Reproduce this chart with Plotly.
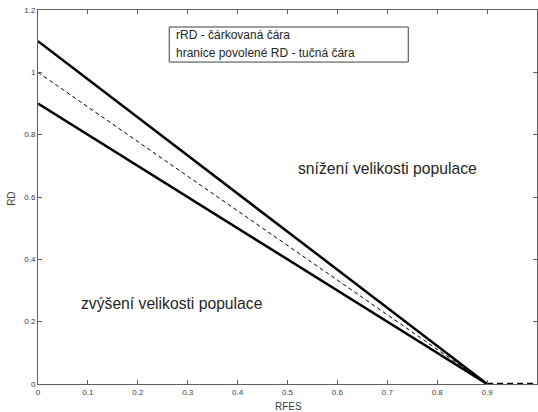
import plotly.graph_objects as go

# Data
rfes = [0, 0.9]
upper_bound = [1.1, 0]
lower_bound = [0.9, 0]
rrd = [1.0, 0]
tail_x = [0.9, 1.0]
tail_y = [0, 0]

x_ticks = [0, 0.1, 0.2, 0.3, 0.4, 0.5, 0.6, 0.7, 0.8, 0.9, 1]
x_tick_labels = ["0", "0.1", "0.2", "0.3", "0.4", "0.5", "0.6", "0.7", "0.8", "0.9", "1"]
y_ticks = [0, 0.2, 0.4, 0.6, 0.8, 1, 1.2]
y_tick_labels = ["0", "0.2", "0.4", "0.6", "0.8", "1", "1.2"]

legend_lines = ["rRD - čárkovaná čára", "hranice povolené RD - tučná čára"]
region_labels = ["snížení velikosti populace", "zvýšení velikosti populace"]

FONT = "Liberation Sans, Arial, sans-serif"
AX = "#606060"

fig = go.Figure()
fig.add_trace(go.Scatter(x=rfes, y=upper_bound, mode="lines",
                         line=dict(color="black", width=2.5), showlegend=False))
fig.add_trace(go.Scatter(x=rfes, y=lower_bound, mode="lines",
                         line=dict(color="black", width=2.5), showlegend=False))
fig.add_trace(go.Scatter(x=rfes, y=rrd, mode="lines",
                         line=dict(color="black", width=1, dash="4px,3px"), showlegend=False))
fig.add_trace(go.Scatter(x=tail_x, y=tail_y, mode="lines",
                         line=dict(color="black", width=2.5, dash="6px,4px"), showlegend=False))

# legend-like box
fig.add_shape(type="rect", xref="x", yref="y", x0=0.263, x1=0.742, y0=1.033, y1=1.1455,
              line=dict(color="#404040", width=1), fillcolor="white", layer="above")
fig.add_annotation(x=0.273, y=1.12, xref="x", yref="y", text=legend_lines[0], showarrow=False,
                   xanchor="left", yanchor="middle", font=dict(family=FONT, size=12, color="#262626"))
fig.add_annotation(x=0.273, y=1.061, xref="x", yref="y", text=legend_lines[1], showarrow=False,
                   xanchor="left", yanchor="middle", font=dict(family=FONT, size=12, color="#262626"))

fig.add_annotation(x=0.7, y=0.693, xref="x", yref="y", text=region_labels[0], showarrow=False,
                   xanchor="center", yanchor="middle", font=dict(family=FONT, size=15.7, color="#262626"))
fig.add_annotation(x=0.268, y=0.257, xref="x", yref="y", text=region_labels[1], showarrow=False,
                   xanchor="center", yanchor="middle", font=dict(family=FONT, size=15.7, color="#262626"))

# axis titles
fig.add_annotation(x=0.502, y=0, xref="paper", yref="paper", yshift=-22, text="RFES", showarrow=False,
                   xanchor="center", yanchor="middle",
                   font=dict(family=FONT, size=10, color="#404040"))
fig.add_annotation(x=0, y=0.495, xref="paper", yref="paper", xshift=-26, text="RD", showarrow=False,
                   xanchor="center", yanchor="middle", textangle=-90,
                   font=dict(family=FONT, size=10, color="#404040"))

axis_common = dict(showgrid=False, zeroline=False, showline=True, linecolor=AX, linewidth=1,
                   mirror="ticks", ticks="inside", ticklen=4, tickcolor=AX, automargin=False,
                   tickfont=dict(family=FONT, size=8, color="#404040"))

fig.update_xaxes(range=[0, 1], tickvals=x_ticks, ticktext=x_tick_labels, **axis_common)
fig.update_yaxes(range=[0, 1.2], tickvals=y_ticks, ticktext=y_tick_labels, **axis_common)

fig.update_layout(width=538, height=412, margin=dict(l=38, r=1, t=10, b=28),
                  plot_bgcolor="white", paper_bgcolor="white", showlegend=False)

fig.write_html("out.html", config={"displayModeBar": False},
               post_script="document.body.style.margin='0';document.body.style.padding='0';"
                           "document.documentElement.style.overflow='hidden';")
